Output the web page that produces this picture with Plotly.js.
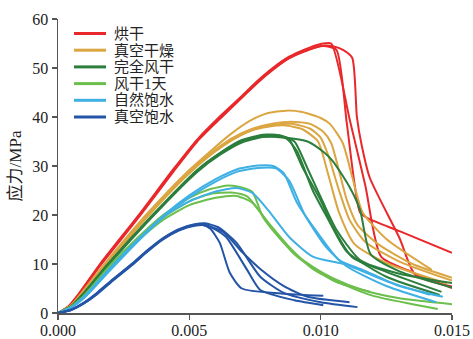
<!DOCTYPE html>
<html>
<head>
<meta charset="utf-8">
<script src="https://cdn.plot.ly/plotly-3.0.1.min.js"></script>
<style>
  html, body { margin: 0; padding: 0; background: #fff; }
  #chart { width: 473px; height: 339px; }
</style>
</head>
<body>
<div id="chart"></div>
<script>
// Stress–strain curves of specimens under six moisture conditions (several specimens each)
const groupNames = ['烘干', '真空干燥', '完全风干', '风干1天', '自然饱水', '真空饱水'];
const groupColors = ['#e8282b', '#dba642', '#2b7e3c', '#6cbf4c', '#3fb0e4', '#2454a6'];

// 烘干
const ovenStrain = [
  [0,0.0004,0.0008,0.0016,0.0031,0.0044,0.0053,0.0062,0.0070,0.0076,0.0082,0.0088,0.0094,0.0100,0.0104,0.0111,0.0117,0.0123,0.0135,0.0150],
  [0,0.0004,0.0008,0.0016,0.0031,0.0044,0.0053,0.0062,0.0070,0.0076,0.0082,0.0088,0.0094,0.0101,0.0106,0.0110,0.0115,0.0118,0.0130,0.0150],
  [0,0.0004,0.0008,0.0016,0.0031,0.0044,0.0053,0.0062,0.0070,0.0076,0.0082,0.0088,0.0094,0.0100,0.0105,0.01085,0.0112,0.01138,0.01156,0.01187,0.0130,0.0136,0.0150]
];
const ovenStress = [
  [0,1.4,4.0,10.0,20.2,29.4,35.4,40.3,44.3,47.4,50.1,52.3,53.8,54.9,55.0,39.6,26.0,11.5,8.3,5.1],
  [0,1.2,3.7,9.6,19.7,28.9,35.0,39.8,43.9,47.0,49.7,52.0,53.5,54.5,53.7,38.5,20.5,19.3,16.7,12.3],
  [0,1.3,3.9,9.8,19.9,29.1,35.2,40.0,44.1,47.2,49.9,52.0,53.4,54.5,54.4,53.7,52.1,40.0,34.3,27.6,15.3,7.8,5.4]
];

// 真空干燥
const vacDryStrain = [
  [0,0.0005,0.0010,0.0018,0.0034,0.0049,0.0058,0.0065,0.0073,0.0080,0.0087,0.0093,0.0100,0.01035,0.01084,0.0112,0.0116,0.0125,0.01423],
  [0,0.0005,0.0010,0.0018,0.0034,0.0049,0.0058,0.0066,0.0074,0.0082,0.0090,0.0096,0.0101,0.0104,0.0107,0.0110,0.0114,0.0122,0.0135,0.0150],
  [0,0.0005,0.0010,0.0018,0.0034,0.0049,0.0058,0.0066,0.0074,0.0082,0.0089,0.0096,0.0100,0.0103,0.0107,0.0111,0.0117,0.0130,0.0150],
  [0,0.0005,0.0010,0.0018,0.0034,0.0049,0.0058,0.0066,0.0074,0.0080,0.0086,0.0093,0.0099,0.0103,0.0107,0.0113,0.0125,0.0148]
];
const vacDryStress = [
  [0,1.6,4.8,10.2,20.3,28.7,33.0,36.2,39.2,40.8,41.3,41.0,39.8,38.6,34.7,27.8,20.5,15.1,8.8],
  [0,1.5,4.5,9.8,19.8,28.2,32.4,35.6,37.6,38.7,39.0,38.6,37.0,34.7,29.0,23.0,18.0,14.0,10.0,7.2],
  [0,1.5,4.6,10.0,20.0,28.4,32.6,35.5,37.4,38.4,38.6,37.6,35.8,32.0,25.0,19.0,14.5,10.5,6.6],
  [0,1.4,4.4,9.7,19.6,28.0,32.2,35.2,37.3,38.0,38.3,37.5,35.0,28.0,20.5,14.0,10.2,6.0]
];

// 完全风干
const fullAirStrain = [
  [0,0.0005,0.0010,0.0019,0.0036,0.0053,0.0062,0.0070,0.0078,0.0084,0.0088,0.0093,0.0100,0.01046,0.0112,0.0125,0.0146],
  [0,0.0005,0.0010,0.0019,0.0036,0.0053,0.0062,0.0070,0.0078,0.0085,0.0090,0.0095,0.0101,0.0106,0.0115,0.0130,0.0150],
  [0,0.0005,0.0010,0.0019,0.0036,0.0053,0.0062,0.0070,0.0078,0.0086,0.0095,0.0101,0.01046,0.0111,0.0115,0.0119,0.0130,0.0150],
  [0,0.0005,0.0010,0.0019,0.0036,0.0053,0.0062,0.0070,0.0078,0.0083,0.0087,0.0091,0.0097,0.0103,0.0110,0.0125,0.01453]
];
const fullAirStress = [
  [0,1.4,4.2,10.0,20.0,29.2,32.8,35.3,36.4,36.3,35.4,29.8,23.0,17.6,11.4,8.4,4.3],
  [0,1.3,4.0,9.8,19.8,29.0,32.6,35.0,36.2,36.2,35.0,29.5,22.5,17.0,10.8,8.0,6.1],
  [0,1.3,4.1,9.9,19.9,29.1,32.7,35.1,36.0,35.8,35.0,32.9,31.0,25.7,21.0,12.0,8.5,5.2],
  [0,1.3,4.0,9.7,19.7,28.8,32.4,34.8,35.9,36.0,35.6,33.0,25.0,19.0,12.5,7.4,3.7]
];

// 风干1天
const oneDayStrain = [
  [0,0.0005,0.0010,0.0020,0.0030,0.0040,0.0050,0.0058,0.0065,0.0070,0.0074,0.0078,0.0084,0.0090,0.0097,0.0105,0.0116,0.0130,0.0150],
  [0,0.0005,0.0010,0.0020,0.0030,0.0040,0.0050,0.0058,0.0066,0.0072,0.0081,0.0090,0.0097,0.0106,0.0119],
  [0,0.0005,0.0010,0.0020,0.0030,0.0040,0.0050,0.0060,0.0068,0.0074,0.0080,0.0088,0.0097,0.0108,0.0120,0.0135,0.01446]
];
const oneDayStress = [
  [0,1.3,3.6,9.8,15.2,20.0,23.5,25.3,26.0,25.6,24.7,19.6,15.5,12.2,9.4,7.0,4.7,3.0,1.8],
  [0,1.2,3.4,9.4,14.8,19.5,22.8,24.3,24.6,23.8,17.6,12.0,9.2,6.3,4.3],
  [0,1.2,3.5,9.5,14.6,19.0,22.0,23.5,23.9,22.5,18.5,13.5,9.0,6.0,3.5,1.8,0.8]
];

// 自然饱水
const natSatStrain = [
  [0,0.0005,0.0010,0.0020,0.0030,0.0040,0.0050,0.0060,0.0068,0.0076,0.0082,0.0086,0.0091,0.0100,0.0107,0.0116,0.0130,0.01465],
  [0,0.0005,0.0010,0.0020,0.0030,0.0040,0.0050,0.0060,0.0068,0.0076,0.0083,0.0088,0.0094,0.0102,0.0110,0.0125,0.0144],
  [0,0.0005,0.0010,0.0020,0.0030,0.0040,0.0050,0.0060,0.0068,0.0074,0.0080,0.0088,0.0097,0.0110,0.0125,0.01416]
];
const natSatStress = [
  [0,1.1,3.2,9.0,14.6,19.8,24.0,27.3,29.3,30.1,30.0,28.5,22.5,15.5,10.8,8.8,5.5,3.3],
  [0,1.1,3.1,8.8,14.4,19.5,23.6,26.8,28.8,29.6,29.5,27.0,20.0,13.5,9.5,5.5,2.2],
  [0,1.2,3.4,9.3,14.8,19.6,22.8,24.8,25.5,24.5,21.0,15.5,11.5,9.8,6.5,3.7]
];

// 真空饱水
const vacSatStrain = [
  [0,0.0005,0.0010,0.0015,0.0020,0.0028,0.0034,0.0040,0.0046,0.0051,0.0055,0.0058,0.00616,0.00654,0.0070,0.0085,0.0101],
  [0,0.0005,0.0010,0.0015,0.0020,0.0028,0.0034,0.0040,0.0046,0.0052,0.0056,0.0060,0.0064,0.0072,0.0077,0.0090,0.0101],
  [0,0.0005,0.0010,0.0015,0.0020,0.0028,0.0034,0.0040,0.0046,0.0052,0.0056,0.0061,0.0068,0.0077,0.0086,0.0100,0.0114],
  [0,0.0005,0.0010,0.0015,0.0020,0.0028,0.0034,0.0040,0.0046,0.0052,0.0056,0.0063,0.0070,0.0077,0.0086,0.0095,0.0111]
];
const vacSatStress = [
  [0,0.7,2.2,4.2,6.5,10.0,12.8,15.3,17.0,17.9,18.0,17.2,14.3,8.2,5.0,4.0,3.5],
  [0,0.6,2.0,4.0,6.3,9.8,12.6,15.1,16.9,17.9,18.0,17.0,15.5,8.8,4.7,2.6,1.6],
  [0,0.7,2.1,4.1,6.4,9.9,12.7,15.2,17.1,18.1,18.3,17.5,14.3,7.4,4.1,2.2,1.2],
  [0,0.6,2.0,3.9,6.2,9.7,12.5,15.0,16.8,17.8,17.9,16.5,12.5,9.0,5.5,3.3,2.2]
];

const xTickValues = [0, 0.005, 0.010, 0.015];
const xTickLabels = ['0.000', '0.005', '0.010', '0.015'];
const yTickValues = [0, 10, 20, 30, 40, 50, 60];

const groups = [
  [ovenStrain, ovenStress],
  [vacDryStrain, vacDryStress],
  [fullAirStrain, fullAirStress],
  [oneDayStrain, oneDayStress],
  [natSatStrain, natSatStress],
  [vacSatStrain, vacSatStress]
];

const serif = 'Liberation Serif, "Times New Roman", "Noto Sans CJK SC", serif';
const axisColor = '#555555';

const traces = [];
groups.forEach(([xs, ys], g) => {
  xs.forEach((x, k) => {
    traces.push({
      type: 'scatter',
      mode: 'lines',
      x: x,
      y: ys[k],
      name: groupNames[g],
      showlegend: false,
      line: { color: groupColors[g], width: 2, shape: 'spline', smoothing: 0.6 },
      hoverinfo: 'skip'
    });
  });
});

// Key in the upper-left corner: colour swatch + label per group
const keyTop = 33.5, keyStep = 16.7, plotTop = 19, plotH = 294, plotL = 58, plotW = 394;
const shapes = [], annotations = [];
groupNames.forEach((name, g) => {
  const yPaper = 1 - (keyTop + g * keyStep - plotTop) / plotH;
  shapes.push({
    type: 'line', xref: 'paper', yref: 'paper',
    x0: (74 - plotL) / plotW, x1: (106 - plotL) / plotW, y0: yPaper, y1: yPaper,
    line: { color: groupColors[g], width: 3 }
  });
  annotations.push({
    xref: 'paper', yref: 'paper', x: (112 - plotL) / plotW, y: yPaper,
    xanchor: 'left', yanchor: 'middle', showarrow: false, text: name,
    font: { family: serif, size: 15, color: '#222' }
  });
});

const layout = {
  width: 473,
  height: 339,
  margin: { l: 58, r: 21, t: 19, b: 26 },
  paper_bgcolor: '#ffffff',
  plot_bgcolor: '#ffffff',
  showlegend: false,
  shapes: shapes,
  annotations: annotations,
  xaxis: {
    range: [0, 0.015],
    tickvals: xTickValues,
    ticktext: xTickLabels,
    ticks: 'outside', ticklen: 5, tickwidth: 1.5, tickcolor: axisColor,
    ticklabelstandoff: -3,
    showline: true, linecolor: axisColor, linewidth: 1.5,
    showgrid: false, zeroline: false,
    tickfont: { family: serif, size: 16, color: '#222' }
  },
  yaxis: {
    range: [0, 60],
    tickvals: yTickValues,
    ticks: 'outside', ticklen: 5, tickwidth: 1.5, tickcolor: axisColor,
    showline: true, linecolor: axisColor, linewidth: 1.5,
    showgrid: false, zeroline: false,
    tickfont: { family: serif, size: 16, color: '#222' },
    title: { text: '应力/MPa', font: { family: serif, size: 17, color: '#222' }, standoff: 6 }
  }
};

Plotly.newPlot('chart', traces, layout, { displayModeBar: false, staticPlot: true });
</script>
</body>
</html>
